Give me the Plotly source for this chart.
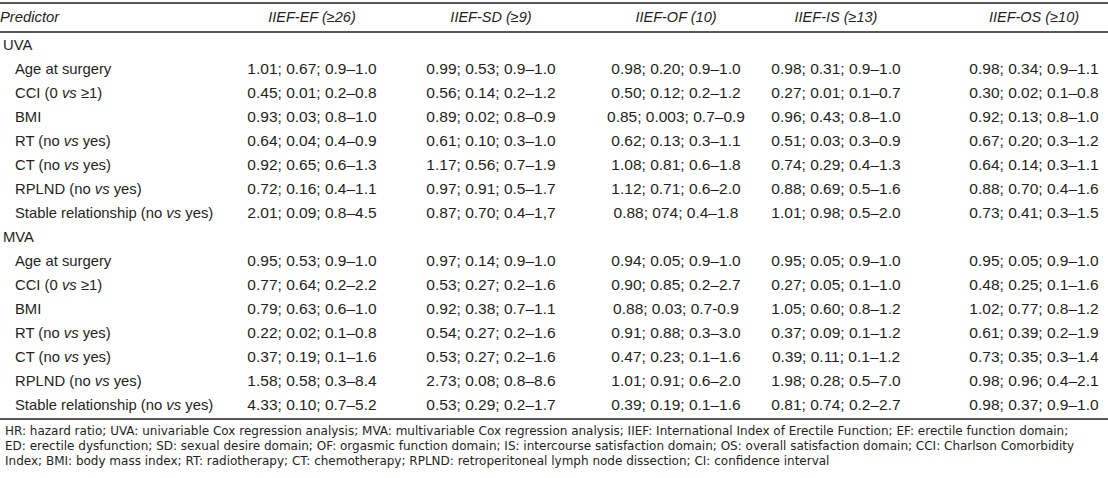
import plotly.graph_objects as go

# ---- data ----
columns = ["IIEF-EF (≥26)", "IIEF-SD (≥9)", "IIEF-OF (10)", "IIEF-IS (≥13)", "IIEF-OS (≥10)"]
sections = ["UVA", "MVA"]
predictors = ["Age at surgery", "CCI (0 <i>vs</i> ≥1)", "BMI", "RT (no <i>vs</i> yes)",
              "CT (no <i>vs</i> yes)", "RPLND (no <i>vs</i> yes)", "Stable relationship (no <i>vs</i> yes)"]

uva_ef = ["1.01; 0.67; 0.9–1.0", "0.45; 0.01; 0.2–0.8", "0.93; 0.03; 0.8–1.0", "0.64; 0.04; 0.4–0.9",
          "0.92; 0.65; 0.6–1.3", "0.72; 0.16; 0.4–1.1", "2.01; 0.09; 0.8–4.5"]
uva_sd = ["0.99; 0.53; 0.9–1.0", "0.56; 0.14; 0.2–1.2", "0.89; 0.02; 0.8–0.9", "0.61; 0.10; 0.3–1.0",
          "1.17; 0.56; 0.7–1.9", "0.97; 0.91; 0.5–1.7", "0.87; 0.70; 0.4–1,7"]
uva_of = ["0.98; 0.20; 0.9–1.0", "0.50; 0.12; 0.2–1.2", "0.85; 0.003; 0.7–0.9", "0.62; 0.13; 0.3–1.1",
          "1.08; 0.81; 0.6–1.8", "1.12; 0.71; 0.6–2.0", "0.88; 074; 0.4–1.8"]
uva_is = ["0.98; 0.31; 0.9–1.0", "0.27; 0.01; 0.1–0.7", "0.96; 0.43; 0.8–1.0", "0.51; 0.03; 0.3–0.9",
          "0.74; 0.29; 0.4–1.3", "0.88; 0.69; 0.5–1.6", "1.01; 0.98; 0.5–2.0"]
uva_os = ["0.98; 0.34; 0.9–1.1", "0.30; 0.02; 0.1–0.8", "0.92; 0.13; 0.8–1.0", "0.67; 0.20; 0.3–1.2",
          "0.64; 0.14; 0.3–1.1", "0.88; 0.70; 0.4–1.6", "0.73; 0.41; 0.3–1.5"]

mva_ef = ["0.95; 0.53; 0.9–1.0", "0.77; 0.64; 0.2–2.2", "0.79; 0.63; 0.6–1.0", "0.22; 0.02; 0.1–0.8",
          "0.37; 0.19; 0.1–1.6", "1.58; 0.58; 0.3–8.4", "4.33; 0.10; 0.7–5.2"]
mva_sd = ["0.97; 0.14; 0.9–1.0", "0.53; 0.27; 0.2–1.6", "0.92; 0.38; 0.7–1.1", "0.54; 0.27; 0.2–1.6",
          "0.53; 0.27; 0.2–1.6", "2.73; 0.08; 0.8–8.6", "0.53; 0.29; 0.2–1.7"]
mva_of = ["0.94; 0.05; 0.9–1.0", "0.90; 0.85; 0.2–2.7", "0.88; 0.03; 0.7-0.9", "0.91; 0.88; 0.3–3.0",
          "0.47; 0.23; 0.1–1.6", "1.01; 0.91; 0.6–2.0", "0.39; 0.19; 0.1–1.6"]
mva_is = ["0.95; 0.05; 0.9–1.0", "0.27; 0.05; 0.1–1.0", "1.05; 0.60; 0.8–1.2", "0.37; 0.09; 0.1–1.2",
          "0.39; 0.11; 0.1–1.2", "1.98; 0.28; 0.5–7.0", "0.81; 0.74; 0.2–2.7"]
mva_os = ["0.95; 0.05; 0.9–1.0", "0.48; 0.25; 0.1–1.6", "1.02; 0.77; 0.8–1.2", "0.61; 0.39; 0.2–1.9",
          "0.73; 0.35; 0.3–1.4", "0.98; 0.96; 0.4–2.1", "0.98; 0.37; 0.9–1.0"]

footnote = ["HR: hazard ratio; UVA: univariable Cox regression analysis; MVA: multivariable Cox regression analysis; IIEF: International Index of Erectile Function; EF: erectile function domain;",
            "ED: erectile dysfunction; SD: sexual desire domain; OF: orgasmic function domain; IS: intercourse satisfaction domain; OS: overall satisfaction domain; CCI: Charlson Comorbidity",
            "Index; BMI: body mass index; RT: radiotherapy; CT: chemotherapy; RPLND: retroperitoneal lymph node dissection; CI: confidence interval"]

# ---- layout constants ----
W, H = 1108, 478
FONT = "Liberation Sans"
FOOT_FONT = "DejaVu Sans"
TXT = "#231f20"
ROW_TOP_PX, ROW_STEP_PX = 46, 24
col_centers = [312, 491, 676, 836, 1034]
label_x, indent_x = 3, 15
header_row = (18 - ROW_TOP_PX) / ROW_STEP_PX

uva = [uva_ef, uva_sd, uva_of, uva_is, uva_os]
mva = [mva_ef, mva_sd, mva_of, mva_is, mva_os]

labels, label_xs, rows = [], [], []
col_vals = [[] for _ in columns]
r = 0
for sec, block in zip(sections, [uva, mva]):
    labels.append(sec); label_xs.append(label_x); rows.append(r)
    for c in range(len(columns)):
        col_vals[c].append("")
    r += 1
    for i, p in enumerate(predictors):
        labels.append(p); label_xs.append(indent_x); rows.append(r)
        for c in range(len(columns)):
            col_vals[c].append(block[c][i])
        r += 1

fig = go.Figure()
fig.add_trace(go.Scatter(x=label_xs, y=rows, text=labels, mode="text",
                         textposition="middle right", hoverinfo="skip",
                         textfont=dict(family=FONT, size=14.8, color=TXT)))
for c, name in enumerate(columns):
    fig.add_trace(go.Scatter(x=[col_centers[c]] * len(rows), y=rows, text=col_vals[c], mode="text",
                             textposition="middle center", hoverinfo="skip",
                             textfont=dict(family=FONT, size=15.5, color=TXT)))
fig.add_trace(go.Scatter(x=[label_x - 3], y=[header_row], text=["<i>Predictor</i>"], mode="text",
                         textposition="middle right", hoverinfo="skip",
                         textfont=dict(family=FONT, size=14.8, color=TXT)))
fig.add_trace(go.Scatter(x=col_centers, y=[header_row] * len(columns),
                         text=[f"<i>{c}</i>" for c in columns], mode="text",
                         textposition="middle center", hoverinfo="skip",
                         textfont=dict(family=FONT, size=14.5, color=TXT)))

def py(px):
    return (px - ROW_TOP_PX) / ROW_STEP_PX

for ypx in [3, 32, 419]:
    fig.add_shape(type="line", xref="x", yref="y", x0=0, x1=W, y0=py(ypx), y1=py(ypx),
                  line=dict(color="#231f20", width=1.5))

for i, line in enumerate(footnote):
    fig.add_annotation(x=3, y=py(431 + 15 * i), xref="x", yref="y", text=line, showarrow=False,
                       xanchor="left", yanchor="middle",
                       font=dict(family=FOOT_FONT, size=12, color=TXT))

fig.update_layout(width=W, height=H, margin=dict(l=0, r=0, t=0, b=0),
                  paper_bgcolor="white", plot_bgcolor="white", showlegend=False,
                  xaxis=dict(range=[0, W], visible=False, fixedrange=True),
                  yaxis=dict(range=[py(H), py(0)], visible=False, fixedrange=True))
fig.write_html("out.html", config={"displayModeBar": False},
               post_script="document.body.style.margin='0px';")
